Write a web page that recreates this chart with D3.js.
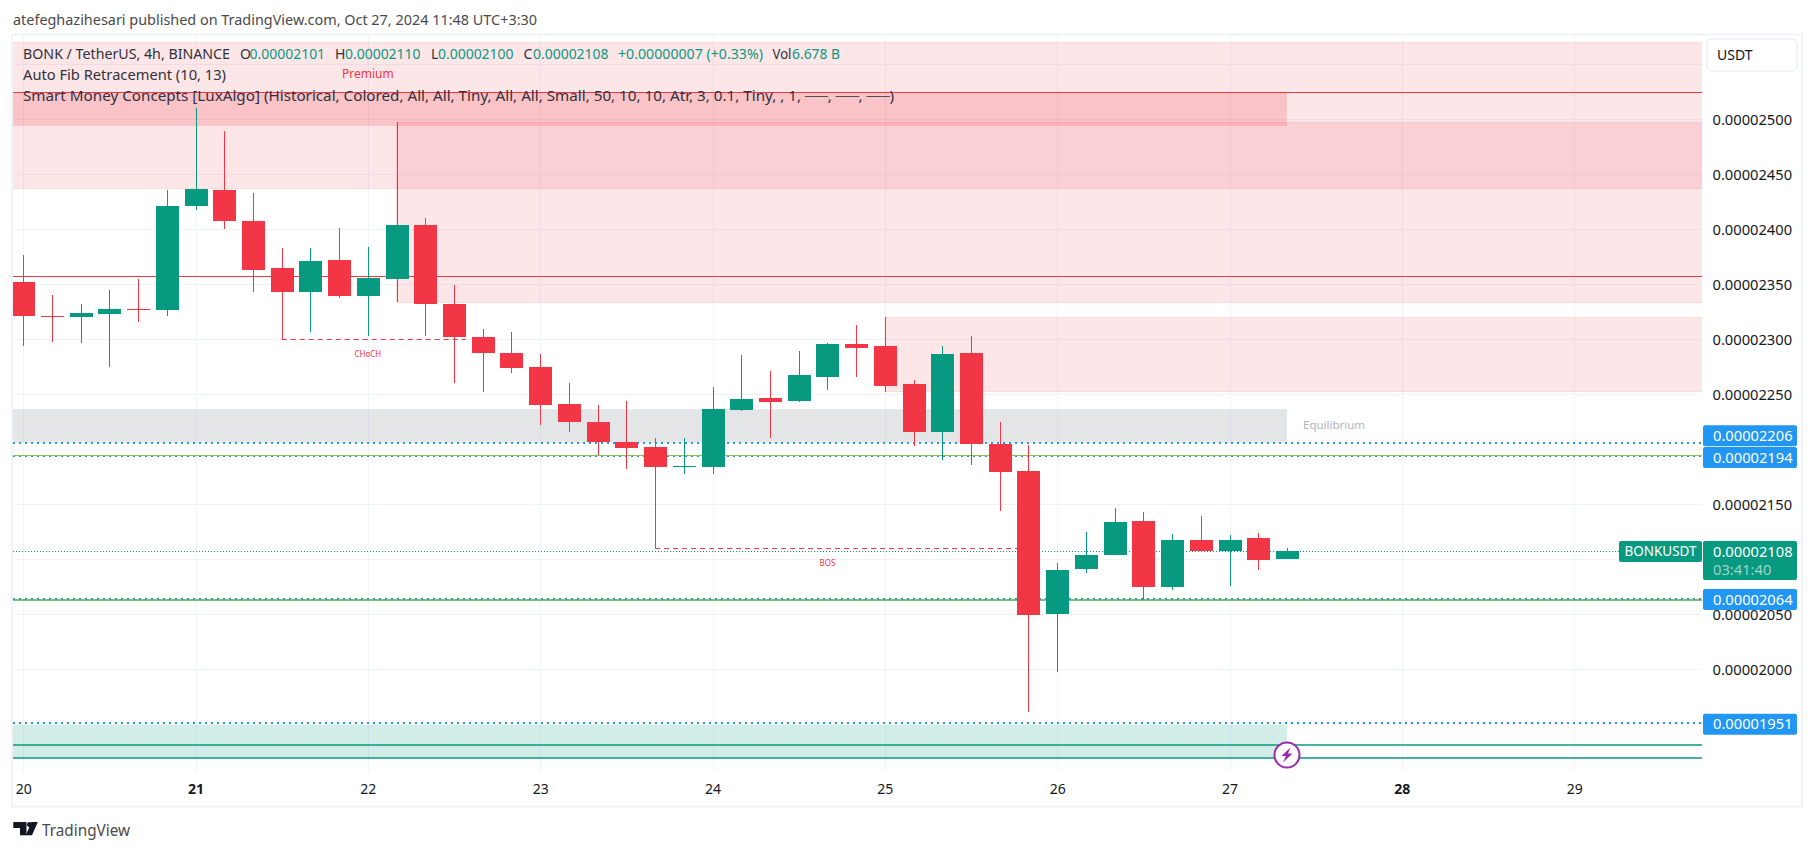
<!DOCTYPE html>
<html>
<head>
<meta charset="utf-8">
<title>BONKUSDT</title>
<script src="https://cdn.jsdelivr.net/npm/d3@7"></script>
<style>
  html, body { margin: 0; padding: 0; background: #fff; }
  svg { display: block; font-family: "Noto Sans", Lato, sans-serif; }
  text { fill: #131722; }
</style>
</head>
<body>
<script>
"use strict";

// prices are in 1e-8 USDT, candles are 4h bars counted from the 20th 00:00
const opens  = [2352,2321,2320,2323,2328,2327,2421,2436,2408,2365,2343,2372,2339,2355,2404,2332,2302,2288,2275,2241,2225,2207,2202,2184,2184,2236,2247,2244,2266,2296,2294,2259,2216,2288,2205,2180,2050,2091,2104,2135,2075,2118,2108,2119,2100];
const highs  = [2377,2340,2332,2345,2355,2436,2510,2489,2433,2383,2383,2401,2384,2498,2410,2349,2309,2307,2287,2260,2240,2244,2210,2210,2257,2286,2271,2289,2297,2313,2320,2263,2294,2303,2225,2204,2097,2125,2147,2143,2123,2139,2122,2124,2110];
const lows   = [2294,2298,2297,2275,2316,2321,2418,2400,2343,2300,2307,2338,2303,2334,2303,2260,2252,2269,2222,2216,2195,2182,2110,2178,2178,2235,2210,2243,2254,2266,2252,2203,2190,2186,2144,1961,1998,2088,2104,2063,2072,2108,2076,2090,2100];
const closes = [2321,2320,2324,2328,2327,2421,2437,2408,2363,2343,2371,2339,2356,2404,2332,2302,2288,2274,2240,2225,2207,2201,2184,2185,2237,2246,2243,2268,2296,2292,2258,2216,2287,2205,2179,2049,2090,2104,2134,2075,2118,2108,2118,2099,2108];

const gridTicks = [1950,2000,2050,2100,2150,2200,2250,2300,2350,2400,2450,2500,2550];
const priceTicks = [2000,2050,2150,2250,2300,2350,2400,2450,2500];
const dayLabels = [20,21,22,23,24,25,26,27,28,29];
const boldDays = [21,28];
const barsPerDay = 6;

// smart money boxes: first bar, last bar, top price, bottom price
const supplyStart = [-1,13,30];
const supplyEnd = [60,60,60];
const supplyTop = [2570,2497.5,2320];
const supplyBottom = [2437,2334,2252.5];

const premiumRange = [2524.5,2494];
const equilibriumRange = [2236.5,2206];
const discountRange = [1949.5,1919];
const rangeEndBar = 44;

const redLevels = [2524.5,2358];
const fibLevelUpper = 2194.5;
const fibLevelLower = 2063;
const tealLevels = [1931,1919];
const alertLevels = [2206,2194,2064,1951];
const lastPrice = 2108;

const chochBars = [9,15.4], chochPrice = 2300, chochLabelBar = 12;
const bosBars = [22,35], bosPrice = 2110, bosLabelBar = 28;

const w = 1815, h = 851;
const pane = {left: 13, right: 1702, top: 36, bottom: 771.5};
const red = "#f23645", green = "#089981", blue = "#2196f3";
const priceFont = "14.7px";

const svg = d3.select("body").append("svg")
  .attr("width", w)
  .attr("height", h);

const xScale = d3.scaleLinear()
  .domain([0, 54])
  .range([23.2, 1574.2]);

const yScale = d3.scaleLinear()
  .domain([2500, 2000])
  .range([119.3, 669.3]);

svg.append("defs").append("clipPath").attr("id", "pane")
  .append("rect")
  .attr("x", pane.left)
  .attr("y", pane.top)
  .attr("width", pane.right - pane.left)
  .attr("height", pane.bottom - pane.top);

// frame
svg.append("rect")
  .attr("x", 12).attr("y", 34.5)
  .attr("width", 1790).attr("height", 772)
  .attr("fill", "none")
  .attr("stroke", "#f0f3fa")
  .attr("stroke-width", 2);

const chart = svg.append("g").attr("clip-path", "url(#pane)");

// grid
chart.selectAll(".hgrid")
  .data(gridTicks)
  .enter().append("line")
  .attr("x1", pane.left).attr("x2", pane.right)
  .attr("y1", d => Math.round(yScale(d)) + 0.5)
  .attr("y2", d => Math.round(yScale(d)) + 0.5)
  .attr("stroke", "#f0f3fa");

chart.selectAll(".vgrid")
  .data(dayLabels)
  .enter().append("line")
  .attr("x1", d => Math.round(xScale((d - 20) * barsPerDay)) + 0.5)
  .attr("x2", d => Math.round(xScale((d - 20) * barsPerDay)) + 0.5)
  .attr("y1", pane.top).attr("y2", pane.bottom)
  .attr("stroke", "#f0f3fa");

// zones
chart.selectAll(".supply")
  .data(supplyStart)
  .enter().append("rect")
  .attr("x", (d, i) => xScale(d))
  .attr("y", (d, i) => Math.round(yScale(supplyTop[i])) + 0.5)
  .attr("width", (d, i) => xScale(supplyEnd[i]) - xScale(d))
  .attr("height", (d, i) => Math.round(yScale(supplyBottom[i]) - yScale(supplyTop[i])))
  .attr("fill", "#ee3a46")
  .attr("fill-opacity", 0.125)
  .attr("stroke", red)
  .attr("stroke-opacity", 0.12);

function rangeBox(range, fill, op) {
  chart.append("rect")
    .attr("x", pane.left)
    .attr("y", yScale(range[0]))
    .attr("width", xScale(rangeEndBar) - pane.left)
    .attr("height", yScale(range[1]) - yScale(range[0]))
    .attr("fill", fill)
    .attr("fill-opacity", op);
}
rangeBox(premiumRange, red, 0.2);
rangeBox(equilibriumRange, "#787b86", 0.2);
rangeBox(discountRange, green, 0.18);

function level(price, color, width, dash) {
  const py = width % 2 === 1 ? Math.round(yScale(price)) + 0.5 : Math.round(yScale(price));
  chart.append("line")
    .attr("x1", pane.left).attr("x2", pane.right)
    .attr("y1", py).attr("y2", py)
    .attr("stroke", color)
    .attr("stroke-width", width)
    .attr("stroke-dasharray", dash || null);
}
alertLevels.forEach(p => level(p, blue, 2, "2,4"));
level(lastPrice, green, 1, "1,2");
redLevels.forEach(p => level(p, red, 1));
level(fibLevelUpper, "#8bc34a", 1);
level(fibLevelLower, "#4caf50", 1.4);
tealLevels.forEach(p => level(p, green, 1.4));

// choch / bos
function structure(bars, price, label, labelBar) {
  const py = Math.round(yScale(price)) + 0.5;
  chart.append("line")
    .attr("x1", xScale(bars[0])).attr("x2", xScale(bars[1]))
    .attr("y1", py).attr("y2", py)
    .attr("stroke", red)
    .attr("stroke-dasharray", "5,4");
  chart.append("text")
    .attr("x", xScale(labelBar))
    .attr("y", yScale(price) + 15)
    .attr("dy", ".35em")
    .attr("text-anchor", "middle")
    .style("font-size", "8px")
    .style("fill", red)
    .text(label);
}
structure(chochBars, chochPrice, "CHoCH", chochLabelBar);
structure(bosBars, bosPrice, "BOS", bosLabelBar);

// candles
const candles = chart.selectAll(".candle")
  .data(opens)
  .enter().append("g")
  .attr("class", "candle")
  .style("shape-rendering", "crispEdges");

candles.append("rect")
  .attr("x", (d, i) => Math.round(xScale(i)))
  .attr("width", 1)
  .attr("y", (d, i) => yScale(highs[i]))
  .attr("height", (d, i) => yScale(lows[i]) - yScale(highs[i]))
  .attr("fill", (d, i) => closes[i] >= d ? green : red);

candles.append("rect")
  .attr("x", (d, i) => Math.round(xScale(i)) - 11)
  .attr("width", 23)
  .attr("y", (d, i) => yScale(Math.max(d, closes[i])))
  .attr("height", (d, i) => Math.max(1, Math.abs(yScale(d) - yScale(closes[i]))))
  .attr("fill", (d, i) => closes[i] >= d ? green : red);

// zone labels
chart.append("text")
  .attr("x", xScale(chochLabelBar)).attr("y", 74).attr("dy", ".35em")
  .attr("text-anchor", "middle")
  .style("font-size", "12px").style("fill", red)
  .text("Premium");

chart.append("text")
  .attr("x", 1303).attr("y", 425).attr("dy", ".35em")
  .style("font-size", "11.5px").style("fill", "#b2b5be")
  .text("Equilibrium");

// alert icon on the last bar
const bolt = svg.append("g")
  .attr("transform", "translate(" + xScale(rangeEndBar) + ",755)");
bolt.append("circle")
  .attr("r", 12.5)
  .attr("fill", "#fff")
  .attr("stroke", "#9c27b0")
  .attr("stroke-width", 2);
bolt.append("path")
  .attr("d", "M3.5,-7.5 L-5.5,1 L-1,1 L-4,7.5 L5.5,-1.5 L1,-1.5 Z")
  .attr("fill", "#9c27b0");

// axes
const yAxis = d3.axisRight(yScale)
  .tickValues(priceTicks)
  .tickSize(0)
  .tickPadding(0)
  .tickFormat(d => (d / 1e8).toFixed(8));

const xAxis = d3.axisBottom(xScale)
  .tickValues(dayLabels.map(d => (d - 20) * barsPerDay))
  .tickSize(0)
  .tickPadding(0)
  .tickFormat(d => dayLabels[0] + d / barsPerDay);

const yG = svg.append("g")
  .attr("transform", "translate(1712.5,0)")
  .call(yAxis);
yG.select(".domain").remove();
yG.selectAll("text").style("font-size", priceFont).style("fill", "#131722").style("font-family", "Noto Sans");

const xG = svg.append("g")
  .attr("transform", "translate(0,784)")
  .call(xAxis);
xG.select(".domain").remove();
xG.selectAll("text")
  .style("font-size", "14px").style("fill", "#131722").style("font-family", "Noto Sans")
  .style("font-weight", d => boldDays.includes(dayLabels[0] + d / barsPerDay) ? "700" : "400");

// USDT box
svg.append("rect")
  .attr("x", 1707).attr("y", 39)
  .attr("width", 90).attr("height", 32)
  .attr("rx", 5)
  .attr("fill", "#fff")
  .attr("stroke", "#f0f3fa")
  .attr("stroke-width", 2);
svg.append("text")
  .attr("x", 1717).attr("y", 55).attr("dy", ".35em")
  .style("font-size", "14px")
  .text("USDT");

// price labels
const alertShift = [-7, 1.5, 0.5, 1];
alertLevels.forEach((p, i) => {
  const cy = yScale(p) + alertShift[i];
  svg.append("rect")
    .attr("x", 1703).attr("y", cy - 10.5)
    .attr("width", 94).attr("height", 21)
    .attr("rx", 2)
    .attr("fill", blue);
  svg.append("text")
    .attr("x", 1713).attr("y", cy).attr("dy", ".35em")
    .style("font-size", priceFont).style("fill", "#fff")
    .text((p / 1e8).toFixed(8));
});

svg.append("rect")
  .attr("x", 1703).attr("y", 541)
  .attr("width", 94).attr("height", 39)
  .attr("rx", 2)
  .attr("fill", green);
svg.append("text")
  .attr("x", 1713).attr("y", 551.5).attr("dy", ".35em")
  .style("font-size", priceFont).style("fill", "#fff")
  .text((lastPrice / 1e8).toFixed(8));
svg.append("text")
  .attr("x", 1713).attr("y", 570).attr("dy", ".35em")
  .style("font-size", priceFont).style("fill", "#fff").style("fill-opacity", 0.6)
  .text("03:41:40");

svg.append("rect")
  .attr("x", 1619).attr("y", 541)
  .attr("width", 83).attr("height", 21)
  .attr("rx", 2)
  .attr("fill", green);
svg.append("text")
  .attr("x", 1660.5).attr("y", 551.5).attr("dy", ".35em")
  .attr("text-anchor", "middle")
  .attr("textLength", 72)
  .attr("lengthAdjust", "spacingAndGlyphs")
  .style("font-size", "14px").style("fill", "#fff")
  .text("BONKUSDT");

// header and legend
function label(x, y, txt, color, len) {
  const t = svg.append("text")
    .attr("x", x).attr("y", y).attr("dy", ".35em")
    .style("font-size", "14px")
    .style("fill", color || "#131722")
    .text(txt);
  if (len) t.attr("textLength", len).attr("lengthAdjust", "spacingAndGlyphs");
}
label(13, 20, "atefeghazihesari published on TradingView.com, Oct 27, 2024 11:48 UTC+3:30", "#4a4a4a", 524);

const legendDark = "#2f323c";
label(23, 54, "BONK / TetherUS, 4h, BINANCE", legendDark, 207);
label(240, 54, "O", legendDark);
label(249.6, 54, "0.00002101", green, 75.5);
label(335, 54, "H", legendDark);
label(345, 54, "0.00002110", green, 75.5);
label(431, 54, "L", legendDark);
label(438, 54, "0.00002100", green, 75.5);
label(523.5, 54, "C", legendDark);
label(533, 54, "0.00002108", green, 75.5);
label(618, 54, "+0.00000007 (+0.33%)", green, 145);
label(772.5, 54, "Vol", legendDark, 19);
label(792, 54, "6.678 B", green, 48);
label(23, 75, "Auto Fib Retracement (10, 13)", legendDark, 203);
label(23, 96, "Smart Money Concepts [LuxAlgo] (Historical, Colored, All, All, Tiny, All, All, Small, 50, 10, 10, Atr, 3, 0.1, Tiny, , 1, ──, ──, ──)", legendDark, 871);

// logo
const logo = svg.append("g").attr("fill", "#131722");
logo.append("path").attr("d", "M13.3,822 H26.5 V835.3 H20 V828 H13.3 Z");
logo.append("circle").attr("cx", 29.5).attr("cy", 824.5).attr("r", 2.5);
logo.append("path").attr("d", "M37.8,822 L32,835.3 H25.8 L31.5,822 Z");
svg.append("text")
  .attr("x", 42).attr("y", 830).attr("dy", ".35em")
  .attr("textLength", 88)
  .attr("lengthAdjust", "spacingAndGlyphs")
  .style("font-size", "17px")
  .style("fill", "#4a4a4a")
  .text("TradingView");
</script>
</body>
</html>
